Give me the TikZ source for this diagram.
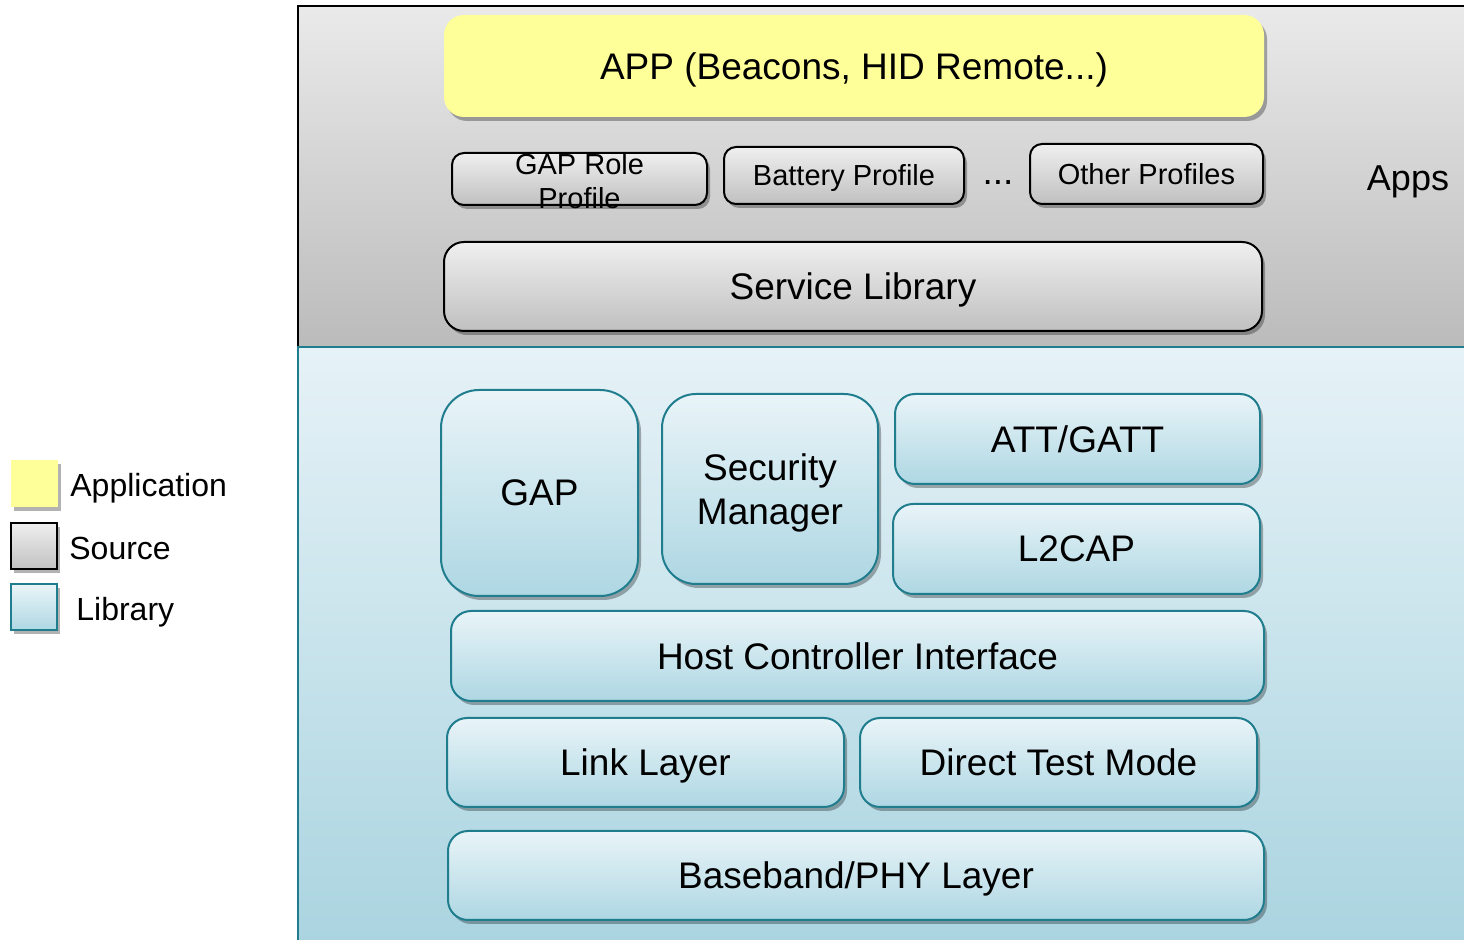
\documentclass[tikz,border=0pt]{standalone}
\usepackage{fontspec}
\setmainfont{Liberation Sans}
\usetikzlibrary{shadows}
\definecolor{appyellow}{HTML}{FFFF99}
\definecolor{srctop}{HTML}{EFEFEF}
\definecolor{srcbot}{HTML}{C0C0C0}
\definecolor{libtop}{HTML}{E9F4F8}
\definecolor{libbot}{HTML}{AED7E3}
\definecolor{libline}{HTML}{1F7D8E}
\definecolor{areatop}{HTML}{EAEAEA}
\definecolor{areabot}{HTML}{BBBBBB}
\definecolor{libareatop}{HTML}{E6F2F7}
\definecolor{libareabot}{HTML}{AAD4E0}

\begin{document}
\begin{tikzpicture}[x=0.5pt, y=-0.5pt,
    boxshadow/.style={drop shadow={shadow xshift=1.5pt, shadow yshift=-2pt, opacity=0.3, fill=black}},
    appbox/.style={fill=appyellow, rounded corners=10pt, boxshadow, text depth=0pt, font=\fontsize{18.5}{22}\selectfont},
    srcbox/.style={draw=black, line width=1pt, top color=srctop, bottom color=srcbot, rounded corners=6pt, boxshadow, text depth=0pt, font=\fontsize{14.5}{17}\selectfont},
    libbox/.style={draw=libline, line width=1pt, top color=libtop, bottom color=libbot, rounded corners=10pt, boxshadow, align=center, text depth=0pt, font=\fontsize{18.5}{22}\selectfont},
    keytext/.style={anchor=west, inner sep=0pt, text depth=0pt, font=\fontsize{16}{19}\selectfont}]
			\useasboundingbox (0, 0) rectangle (1464, 940);
			% the two layers
			\shade[top color=areatop, bottom color=areabot] (298, 6) rectangle (1470, 347);
			\shade[top color=libareatop, bottom color=libareabot] (298, 347) rectangle (1470, 945);
			\draw[line width=1pt] (298, 347) -- (298, 6) -- (1470, 6);
			\draw[libline, line width=1pt] (298, 945) -- (298, 347) -- (1470, 347);
			% apps layer
			\node[appbox, minimum width=410pt, minimum height=51pt] (app) at (854, 66) {APP (Beacons, HID Remote...)};
			\node[srcbox, minimum width=127.5pt, minimum height=26pt] (gaprole) at (579.5, 179) {};
			\node[align=center, font=\fontsize{14.5}{17}\selectfont] (gaproletext) at (579.5, 181) {GAP Role\\Profile};
			\node[srcbox, minimum width=120pt, minimum height=28.5pt] (battery) at (844, 175.5) {Battery Profile};
			\node[font=\fontsize{18.5}{22}\selectfont, text depth=0pt] (dots) at (998, 183) {...};
			\node[srcbox, minimum width=116.5pt, minimum height=30pt] (other) at (1146.5, 174) {Other Profiles};
			\node[srcbox, font=\fontsize{18.5}{22}\selectfont, rounded corners=10pt, minimum width=409pt, minimum height=44.5pt] (service) at (853, 286.5) {Service Library};
			\node[font=\fontsize{18}{22}\selectfont, text depth=0pt] (apps) at (1408, 178) {Apps};
			% library layer
			\node[libbox, rounded corners=19pt, minimum width=98.5pt, minimum height=103pt] (gap) at (539.5, 493) {GAP};
			\node[libbox, rounded corners=17pt, minimum width=108pt, minimum height=95pt] (sm) at (770, 489) {Security\\Manager};
			\node[libbox, minimum width=182.5pt, minimum height=45pt] (att) at (1077.5, 439) {ATT/GATT};
			\node[libbox, minimum width=183.5pt, minimum height=45pt] (l2cap) at (1076.5, 549) {L2CAP};
			\node[libbox, minimum width=406.5pt, minimum height=45pt] (hci) at (857.5, 656) {Host Controller Interface};
			\node[libbox, minimum width=198.5pt, minimum height=44.5pt] (ll) at (645.5, 762.5) {Link Layer};
			\node[libbox, minimum width=198.5pt, minimum height=44.5pt] (dtm) at (1058.5, 762.5) {Direct Test Mode};
			\node[libbox, minimum width=408pt, minimum height=44.5pt] (phy) at (856, 875.5) {Baseband/PHY Layer};
			% legend
			\node[fill=appyellow, boxshadow, minimum size=23.5pt] (keyapp) at (34.5, 483.5) {};
			\node[draw=black, line width=1pt, top color=srctop, bottom color=srcbot, boxshadow, minimum size=23pt] (keysrc) at (33.5, 546.5) {};
			\node[draw=libline, line width=1pt, top color=libtop, bottom color=libbot, boxshadow, minimum size=23pt] (keylib) at (33.5, 607.5) {};
			\node[keytext] (keyapptext) at (70, 485) {Application};
			\node[keytext] (keysrctext) at (69, 548) {Source};
			\node[keytext] (keylibtext) at (76, 609) {Library};
		\end{tikzpicture}
\end{document}
